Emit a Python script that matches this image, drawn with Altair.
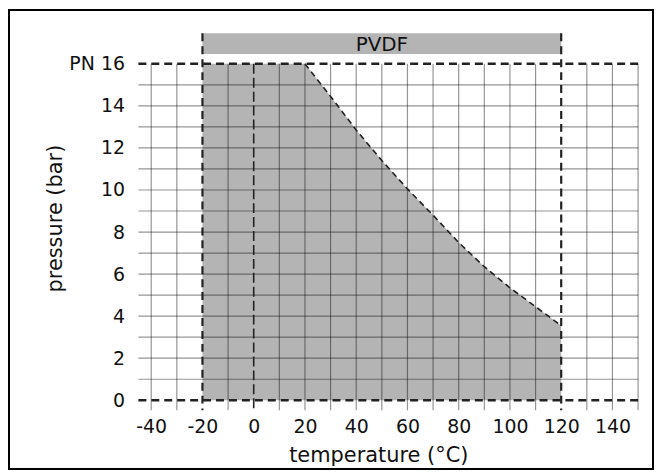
import altair as alt
import pandas as pd

# ---- data ----
temps = [-20, 20, 30, 40, 50, 60, 70, 80, 90, 100, 110, 120]
pressures = [16, 16, 14.45, 12.85, 11.4, 10.05, 8.8, 7.5, 6.35, 5.35, 4.45, 3.55]
x_domain = [-45, 150]
y_domain = [0, 16]
x_tick_values = list(range(-40, 151, 10))
y_tick_values = list(range(0, 17, 2))
range_limits = [-20, 120]          # PVDF temperature range
zero_line = [0]
grid_x = [v for v in x_tick_values if v not in (-20, 0, 120)]
grid_y = list(range(1, 16))
dashed_h = [0, 16]
band = [16.47, 17.45]              # PVDF label bar (bar units above PN 16)
material = "PVDF"

W, H = 502, 338
FONT = "DejaVu Sans"
FILL = "#b4b4b4"
DARK = "#222222"

X_AXIS = alt.Axis(
    values=x_tick_values,
    labelExpr="datum.value % 20 === 0 ? '' + datum.value : ''",
    title="temperature (°C)",
    titleX=241, titleY=62, titleBaseline="alphabetic",
    labelPadding=17,
)
Y_AXIS = alt.Axis(
    values=y_tick_values,
    labelExpr="datum.value === 16 ? 'PN 16' : '' + datum.value",
    title="pressure (bar)",
    titleX=-77, titleY=155, titleBaseline="alphabetic",
    labelPadding=14,
)


def X(field="x"):
    return alt.X(f"{field}:Q",
                 scale=alt.Scale(domain=x_domain, nice=False, zero=False),
                 axis=X_AXIS)


def Y(field="y", **kw):
    return alt.Y(f"{field}:Q",
                 scale=alt.Scale(domain=y_domain, nice=False),
                 axis=Y_AXIS, **kw)


curve_df = pd.DataFrame({"x": temps, "y": pressures})
curve_line_df = curve_df[curve_df["x"] >= 20]

area = alt.Chart(curve_df).mark_area(color=FILL, opacity=1).encode(
    x=X(), y=Y(stack=None)
)

band_df = pd.DataFrame({"x": [range_limits[0]], "x2": [range_limits[1]],
                        "y": [band[0]], "y2": [band[1]]})
band_rect = alt.Chart(band_df).mark_rect(color=FILL).encode(
    x=X(), x2="x2:Q", y=Y(), y2="y2:Q"
)

band_text_df = pd.DataFrame({"x": [sum(range_limits) / 2],
                             "y": [sum(band) / 2], "t": [material]})
band_text = alt.Chart(band_text_df).mark_text(
    font=FONT, fontSize=20, color="#111111", baseline="middle", dy=1
).encode(x=X(), y=Y(), text="t:N")

# grid
vgrid_df = pd.DataFrame({"x": grid_x, "y": [16] * len(grid_x)})
vgrid = alt.Chart(vgrid_df).mark_rule(
    color="#000000", opacity=0.42, strokeWidth=1.2
).encode(x=X(), y=Y(), y2=alt.value(H + 10))

hgrid_df = pd.DataFrame({"y": grid_y, "x": [x_domain[0]] * len(grid_y),
                         "x2": [x_domain[1]] * len(grid_y)})
hgrid = alt.Chart(hgrid_df).mark_rule(
    color="#000000", opacity=0.42, strokeWidth=1.2
).encode(x=X(), x2="x2:Q", y=Y())

# dashed limits
hdash_df = pd.DataFrame({"y": dashed_h, "x": [x_domain[0]] * 2,
                         "x2": [x_domain[1]] * 2})
hdash = alt.Chart(hdash_df).mark_rule(
    color=DARK, strokeWidth=2.5, strokeDash=[8, 5]
).encode(x=X(), x2="x2:Q", y=Y())

vdash_df = pd.DataFrame({"x": range_limits, "y": [band[1]] * 2})
vdash = alt.Chart(vdash_df).mark_rule(
    color=DARK, strokeWidth=2.2, strokeDash=[8, 5]
).encode(x=X(), y=Y(), y2=alt.value(H + 10))

zdash_df = pd.DataFrame({"x": zero_line, "y": [16]})
zdash = alt.Chart(zdash_df).mark_rule(
    color=DARK, strokeWidth=1.6, strokeDash=[10, 4]
).encode(x=X(), y=Y(), y2=alt.value(H + 10))

curve_line = alt.Chart(curve_line_df).mark_line(
    color=DARK, strokeWidth=1.6, strokeDash=[6, 4]
).encode(x=X(), y=Y())

# outer frame (decorative)
frame = alt.Chart(pd.DataFrame({"k": [0]})).mark_rect(
    filled=False, stroke="#000000", strokeWidth=2
).encode(x=alt.value(-130), x2=alt.value(517), y=alt.value(-54), y2=alt.value(407))

chart = alt.layer(
    area, band_rect, vgrid, hgrid, zdash, curve_line, hdash, vdash, band_text, frame
).properties(
    width=W, height=H, padding=0
).configure_view(
    stroke=None
).configure_axis(
    labelFont=FONT, labelFontSize=19, labelColor="#111111",
    titleFont=FONT, titleFontSize=21, titleFontWeight="normal", titleColor="#111111",
    domain=False, ticks=False, tickSize=0, grid=False,
)

chart.save("out.html", embed_options={"renderer": "svg", "actions": False})
